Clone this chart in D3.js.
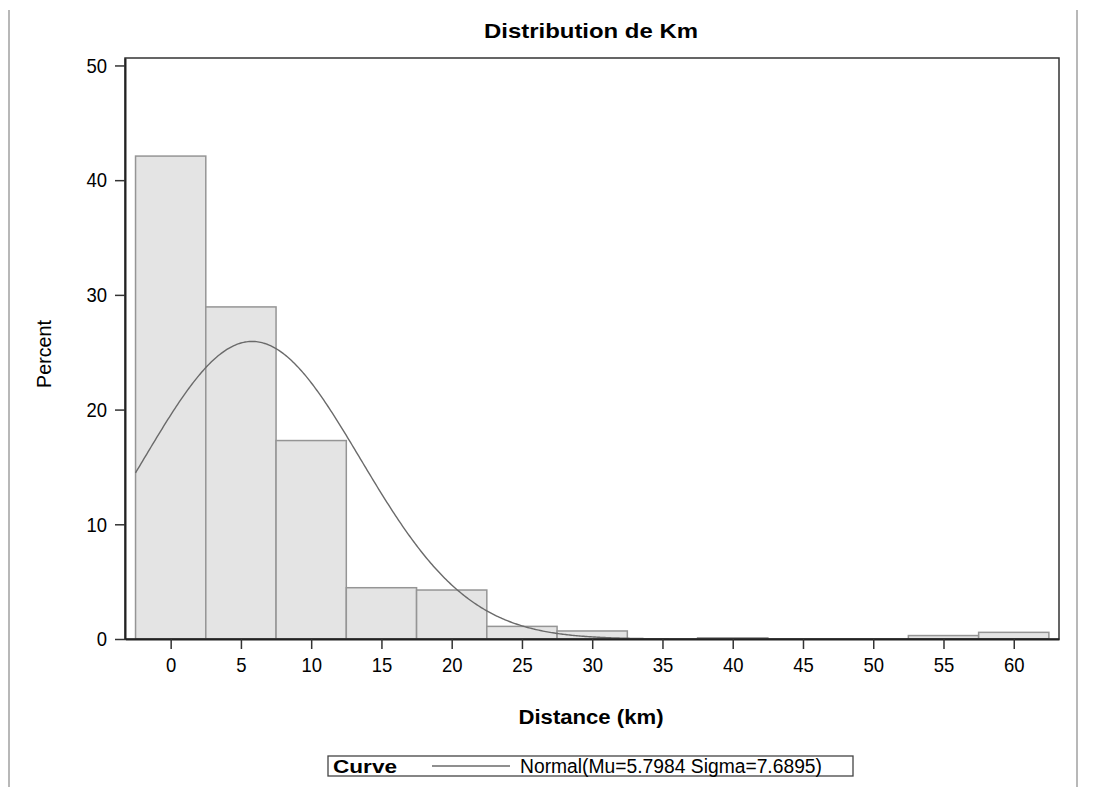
<!DOCTYPE html>
<html>
<head>
<meta charset="utf-8">
<script src="https://cdn.jsdelivr.net/npm/d3@7"></script>
<style>
  html, body { margin: 0; padding: 0; background: #fff; }
  svg { display: block; font-family: "Liberation Sans", Arial, sans-serif; }
</style>
</head>
<body>
<svg id="chart" width="1120" height="787"></svg>
<script>
// ---- data ----
const binMidpoints = [0, 5, 10, 15, 20, 25, 30, 35, 40, 45, 50, 55, 60];
const binPercents  = [42.1, 28.95, 17.3, 4.47, 4.27, 1.1, 0.7, 0, 0.1, 0, 0, 0.3, 0.58];
const binWidth = 5;
const xTicks = [0, 5, 10, 15, 20, 25, 30, 35, 40, 45, 50, 55, 60];
const yTicks = [0, 10, 20, 30, 40, 50];
const normalMu = 5.7984;
const normalSigma = 7.6895;
const titleText = "Distribution de Km";
const xLabel = "Distance (km)";
const yLabel = "Percent";
const legendTitle = "Curve";
const legendText = "Normal(Mu=5.7984 Sigma=7.6895)";

// ---- layout ----
const svg = d3.select("#chart");
const L = 125, R = 1059, T = 58, B = 639;
const x = d3.scaleLinear().domain([-3.25, 63.22]).range([L, R]);
const y = d3.scaleLinear().domain([0, 50.65]).range([B, T]);

function condense(sel, f) {
  sel.each(function () {
    const w = this.getComputedTextLength();
    d3.select(this).attr("textLength", w * f).attr("lengthAdjust", "spacingAndGlyphs");
  });
}

// outer page border lines
svg.append("line").attr("x1", 9).attr("x2", 9).attr("y1", 10).attr("y2", 787)
  .attr("stroke", "#a0a0a0").attr("stroke-width", 1.5);
svg.append("line").attr("x1", 1077).attr("x2", 1077).attr("y1", 10).attr("y2", 787)
  .attr("stroke", "#a0a0a0").attr("stroke-width", 1.5);

// title
svg.append("text").attr("x", 484).attr("y", 38)
  .attr("font-size", 21).attr("font-weight", "bold").attr("fill", "#000")
  .attr("textLength", 214).attr("lengthAdjust", "spacingAndGlyphs")
  .text(titleText);

// bars
const bins = binMidpoints.map((m, i) => ({ x0: m - binWidth / 2, x1: m + binWidth / 2, v: binPercents[i] }))
  .filter(d => d.v > 0);
svg.append("g").selectAll("rect").data(bins).join("rect")
  .attr("x", d => x(d.x0))
  .attr("width", d => x(d.x1) - x(d.x0))
  .attr("y", d => y(d.v))
  .attr("height", d => y(0) - y(d.v))
  .attr("fill", "#e4e4e4")
  .attr("stroke", "#959595")
  .attr("stroke-width", 1.5);

// normal curve
const curvePts = d3.range(-2.5, 62.5001, 0.1).map(v => {
  const z = (v - normalMu) / normalSigma;
  return [v, 100 * binWidth / (normalSigma * Math.sqrt(2 * Math.PI)) * Math.exp(-0.5 * z * z)];
});
svg.append("path").datum(curvePts)
  .attr("d", d3.line().x(d => x(d[0])).y(d => y(d[1])))
  .attr("fill", "none").attr("stroke", "#6a6a6a").attr("stroke-width", 1.4);

// frame
svg.append("rect").attr("x", L).attr("y", T).attr("width", R - L).attr("height", B - T)
  .attr("fill", "none").attr("stroke", "#333").attr("stroke-width", 1.5);

// axes
const yAxis = svg.append("g").attr("transform", `translate(${L},0)`)
  .call(d3.axisLeft(y).tickValues(yTicks).tickSize(10).tickSizeOuter(0).tickPadding(8).tickFormat(d3.format("d")));
const xAxis = svg.append("g").attr("transform", `translate(0,${B})`)
  .call(d3.axisBottom(x).tickValues(xTicks).tickSize(10).tickSizeOuter(0).tickPadding(8).tickFormat(d3.format("d")));
[yAxis, xAxis].forEach(a => {
  a.select(".domain").attr("stroke", "#222").attr("stroke-width", 2);
  a.selectAll(".tick line").attr("stroke", "#333").attr("stroke-width", 1.5);
  a.selectAll(".tick text").attr("font-size", 21).attr("fill", "#000")
    .attr("font-family", "'Liberation Sans', Arial, sans-serif");
  condense(a.selectAll(".tick text"), 0.88);
});

// axis labels
svg.append("text").attr("x", 591).attr("y", 724).attr("text-anchor", "middle")
  .attr("font-size", 20).attr("font-weight", "bold").attr("fill", "#000")
  .attr("textLength", 145).attr("lengthAdjust", "spacingAndGlyphs")
  .text(xLabel);
svg.append("text").attr("transform", "translate(51,354) rotate(-90)").attr("text-anchor", "middle")
  .attr("font-size", 21).attr("fill", "#000")
  .attr("textLength", 68).attr("lengthAdjust", "spacingAndGlyphs")
  .text(yLabel);

// legend
const lg = svg.append("g");
lg.append("rect").attr("x", 328).attr("y", 756).attr("width", 525).attr("height", 20)
  .attr("fill", "#fff").attr("stroke", "#444").attr("stroke-width", 1.3);
lg.append("text").attr("x", 333).attr("y", 773).attr("font-size", 19).attr("font-weight", "bold")
  .attr("textLength", 64).attr("lengthAdjust", "spacingAndGlyphs").text(legendTitle);
lg.append("line").attr("x1", 432).attr("x2", 510).attr("y1", 766).attr("y2", 766)
  .attr("stroke", "#6a6a6a").attr("stroke-width", 1.4);
lg.append("text").attr("x", 520).attr("y", 773).attr("font-size", 20)
  .attr("textLength", 302).attr("lengthAdjust", "spacingAndGlyphs").text(legendText);
</script>
</body>
</html>
